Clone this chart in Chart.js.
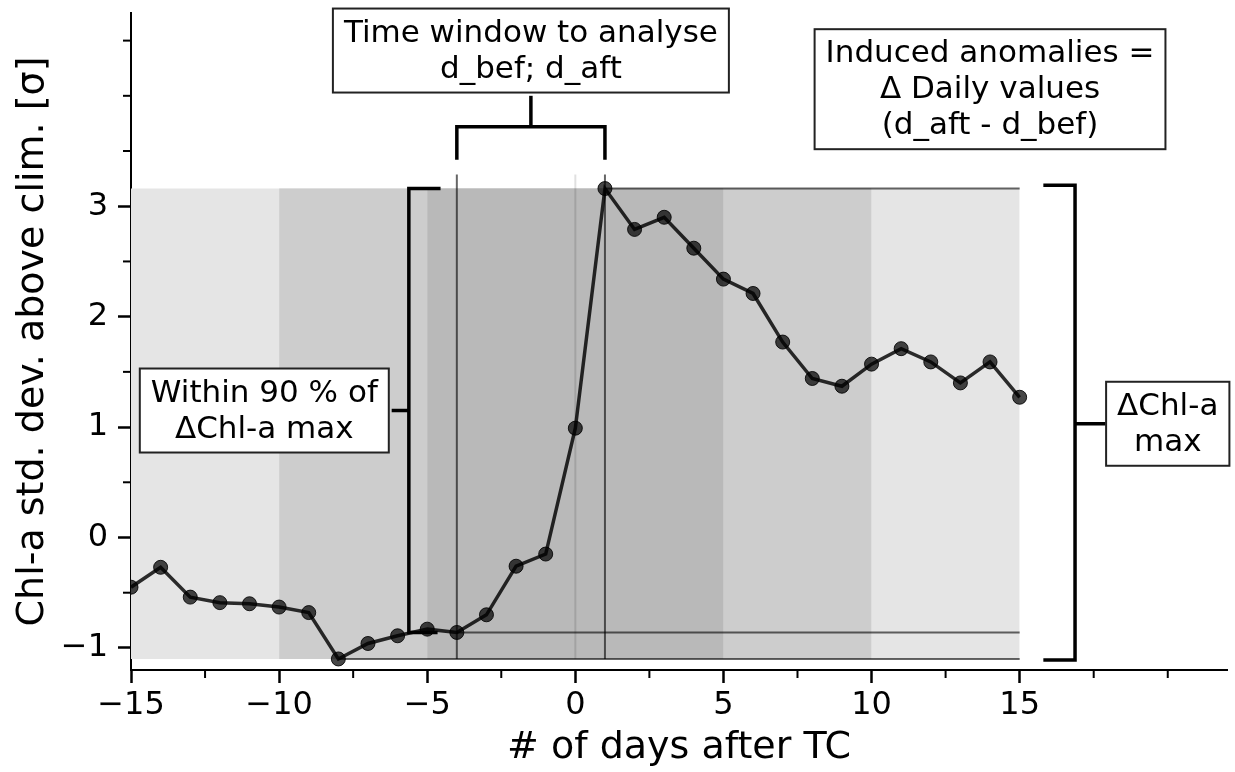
<!DOCTYPE html>
<html>
<head>
<meta charset="utf-8">
<script src="https://cdn.jsdelivr.net/npm/chart.js@4"></script>
<style>
html, body { margin: 0; padding: 0; background: #fff; }
#wrap { width: 1235px; height: 772px; }
</style>
</head>
<body>
<div id="wrap"><canvas id="chlChart" width="1235" height="772"></canvas></div>
<script>
"use strict";

// days relative to the TC passage and the Chl-a anomaly (std. dev. above climatology)
const days = [-15, -14, -13, -12, -11, -10, -9, -8, -7, -6, -5, -4, -3, -2, -1, 0,
              1, 2, 3, 4, 5, 6, 7, 8, 9, 10, 11, 12, 13, 14, 15];
const chlAnomaly = [-0.45, -0.27, -0.54, -0.59, -0.60, -0.63, -0.68, -1.10, -0.96, -0.89, -0.83, -0.86, -0.70, -0.26, -0.15, 0.99,
                    3.16, 2.79, 2.90, 2.62, 2.34, 2.21, 1.77, 1.44, 1.37, 1.57, 1.71, 1.59, 1.40, 1.59, 1.27];

// shaded day windows around the TC
const bandStarts = [-15, -10, -5];
const bandEnds = [15, 10, 5];
const bandColors = ['#e5e5e5', '#cdcdcd', '#b9b9b9'];

// analysis window
const dBef = -4;
const dAft = 1;
const tcDay = 0;

const xMajorTicks = [-15, -10, -5, 0, 5, 10, 15];
const xMinorTicks = [-12.5, -7.5, -2.5, 2.5, 7.5, 12.5, 17.5, 20];
const yMajorTicks = [-1, 0, 1, 2, 3];
const yMinorTicks = [-0.5, 0.5, 1.5, 2.5, 3.5, 4, 4.5];

const FONT = "'DejaVu Sans', sans-serif";

document.addEventListener('DOMContentLoaded', function () {
    const canvas = document.getElementById('chlChart');

    const points = days.map((d, i) => ({x: d, y: chlAnomaly[i]}));
    const yMax = Math.max(...chlAnomaly);
    const yMin = Math.min(...chlAnomaly);
    const dayMax = days[chlAnomaly.indexOf(yMax)];
    const dayMin = days[chlAnomaly.indexOf(yMin)];
    const yBef = chlAnomaly[days.indexOf(dBef)];
    const vTop = yMax * 1.04;

    const minus = v => v < 0 ? '\u2212' + Math.abs(v) : String(v);
    const noPad = s => { s.paddingTop = 0; s.paddingBottom = 0; s.paddingLeft = 0; s.paddingRight = 0; };

    const datasets = [];

    bandStarts.forEach((start, i) => {
        datasets.push({
            data: [{x: start, y: yMax}, {x: bandEnds[i], y: yMax}],
            borderWidth: 0,
            pointRadius: 0,
            fill: {value: yMin},
            backgroundColor: bandColors[i],
            order: 20 - i
        });
    });

    function refLine(a, b, color) {
        datasets.push({
            data: [a, b],
            borderColor: color,
            borderWidth: 2,
            pointRadius: 0,
            fill: false,
            order: 5
        });
    }
    const refGray = 'rgba(0, 0, 0, 0.6)';
    refLine({x: dayMax, y: yMax}, {x: 15, y: yMax}, refGray);
    refLine({x: dBef, y: yBef}, {x: 15, y: yBef}, refGray);
    refLine({x: dayMin, y: yMin}, {x: 15, y: yMin}, refGray);
    refLine({x: dBef, y: yMin}, {x: dBef, y: vTop}, refGray);
    refLine({x: dAft, y: yMin}, {x: dAft, y: vTop}, refGray);
    refLine({x: tcDay, y: yMin}, {x: tcDay, y: vTop}, 'rgba(0, 0, 0, 0.12)');

    datasets.push({
        data: points,
        borderColor: 'rgba(0, 0, 0, 0.82)',
        borderWidth: 3.5,
        pointRadius: 7,
        pointBackgroundColor: 'rgba(0, 0, 0, 0.72)',
        pointBorderColor: 'rgba(0, 0, 0, 0.85)',
        pointBorderWidth: 1,
        fill: false,
        tension: 0,
        order: 0
    });

    const minorTicks = {
        id: 'minorTicks',
        afterDraw(chart) {
            const {ctx, scales: {x, y}} = chart;
            ctx.save();
            ctx.strokeStyle = '#000';
            ctx.lineWidth = 2;
            xMinorTicks.forEach(v => {
                const p = x.getPixelForValue(v);
                ctx.beginPath();
                ctx.moveTo(p, x.top);
                ctx.lineTo(p, x.top + 8);
                ctx.stroke();
            });
            yMinorTicks.forEach(v => {
                const p = y.getPixelForValue(v);
                ctx.beginPath();
                ctx.moveTo(y.right, p);
                ctx.lineTo(y.right - 8, p);
                ctx.stroke();
            });
            ctx.restore();
        }
    };

    const annotations = {
        id: 'annotations',
        afterDatasetsDraw(chart) {
            const {ctx, scales: {x, y}} = chart;
            const px = v => x.getPixelForValue(v);
            const py = v => y.getPixelForValue(v);

            function path(pts) {
                ctx.beginPath();
                pts.forEach((p, i) => i ? ctx.lineTo(px(p[0]), py(p[1])) : ctx.moveTo(px(p[0]), py(p[1])));
                ctx.stroke();
            }

            function box(cx, cy, lines) {
                ctx.font = '31px ' + FONT;
                const lh = 36;
                const w = Math.max(...lines.map(l => ctx.measureText(l).width)) + 22;
                const h = lines.length * lh + 12;
                const x0 = px(cx) - w / 2;
                const y0 = py(cy) - h / 2;
                ctx.fillStyle = '#fff';
                ctx.fillRect(x0, y0, w, h);
                ctx.strokeStyle = '#222';
                ctx.lineWidth = 2;
                ctx.strokeRect(x0, y0, w, h);
                ctx.fillStyle = '#000';
                ctx.textAlign = 'center';
                ctx.textBaseline = 'middle';
                lines.forEach((l, i) => {
                    ctx.fillText(l, px(cx), py(cy) - (lines.length - 1) * lh / 2 + i * lh + 1);
                });
            }

            ctx.save();
            ctx.strokeStyle = '#000';
            ctx.lineWidth = 3.5;
            ctx.lineJoin = 'miter';

            // analysis window bracket
            const midWin = (dBef + dAft) / 2;
            path([[dBef, 3.42], [dBef, 3.72], [dAft, 3.72], [dAft, 3.42]]);
            path([[midWin, 3.72], [midWin, 4.0]]);

            // within 90 % bracket
            const mid90 = (yMax + yBef) / 2;
            path([[-4.55, yMax], [-5.62, yMax], [-5.62, yBef], [-4.65, yBef]]);
            path([[-5.62, mid90], [-6.2, mid90]]);

            // delta max bracket
            const midMax = (yMax + yMin) / 2;
            path([[15.8, yMax + 0.03], [16.87, yMax + 0.03], [16.87, yMin - 0.01], [15.8, yMin - 0.01]]);
            path([[16.87, midMax], [17.9, midMax]]);

            box(midWin, 4.41, ['Time window to analyse', 'd_bef; d_aft']);
            box(14.0, 4.06, ['Induced anomalies =', '\u0394 Daily values', '(d_aft - d_bef)']);
            box(-10.5, mid90, ['Within 90 % of', '\u0394Chl-a max']);
            box(20.0, midMax, ['\u0394Chl-a', 'max']);
            ctx.restore();
        }
    };

    new Chart(canvas, {
        type: 'line',
        data: {datasets: datasets},
        options: {
            responsive: false,
            animation: false,
            layout: {padding: {top: 13, right: 1, left: 0, bottom: 0}},
            plugins: {
                legend: {display: false},
                tooltip: {enabled: false}
            },
            scales: {
                x: {
                    type: 'linear',
                    min: -15,
                    max: 22.0,
                    afterBuildTicks: s => { s.ticks = xMajorTicks.map(v => ({value: v})); },
                    afterFit: s => { s.height = 102; noPad(s); },
                    ticks: {
                        callback: minus,
                        color: '#000',
                        font: {family: FONT, size: 32},
                        padding: 3,
                        maxRotation: 0,
                        autoSkip: false
                    },
                    grid: {
                        display: true,
                        drawOnChartArea: false,
                        drawTicks: true,
                        tickLength: 13,
                        tickWidth: 2.5,
                        tickColor: '#000'
                    },
                    border: {display: true, color: '#000', width: 2},
                    title: {
                        display: true,
                        text: '# of days after TC',
                        color: '#000',
                        font: {family: FONT, size: 38, lineHeight: 1},
                        padding: {top: 0, bottom: 5}
                    }
                },
                y: {
                    type: 'linear',
                    min: -1.2,
                    max: 4.75,
                    afterBuildTicks: s => { s.ticks = yMajorTicks.map(v => ({value: v})); },
                    afterFit: s => { s.width = 131; noPad(s); },
                    ticks: {
                        callback: minus,
                        color: '#000',
                        font: {family: FONT, size: 32},
                        padding: 10,
                        autoSkip: false
                    },
                    grid: {
                        display: true,
                        drawOnChartArea: false,
                        drawTicks: true,
                        tickLength: 13,
                        tickWidth: 2.5,
                        tickColor: '#000'
                    },
                    border: {display: true, color: '#000', width: 2},
                    title: {
                        display: true,
                        text: 'Chl-a std. dev. above clim. [\u03c3]',
                        color: '#000',
                        font: {family: FONT, size: 38, lineHeight: 1},
                        padding: {top: 14, bottom: 0}
                    }
                }
            }
        },
        plugins: [minorTicks, annotations]
    });
});
</script>
</body>
</html>
